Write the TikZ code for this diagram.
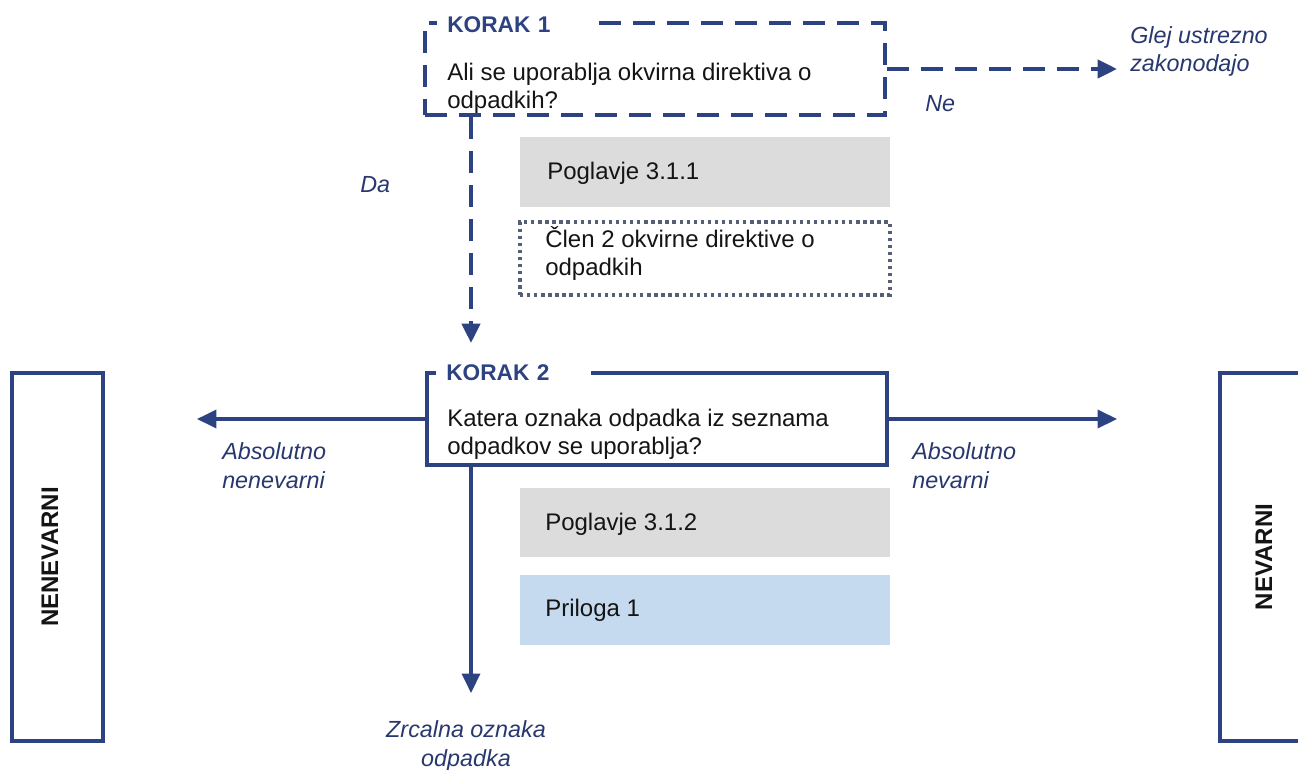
\documentclass[tikz,border=0pt]{standalone}
\usepackage{fontspec}
\setmainfont{Liberation Sans}
\usetikzlibrary{arrows.meta,fit}

\definecolor{navy}{RGB}{45,66,128}
\definecolor{labelblue}{RGB}{40,56,110}
\definecolor{boxgray}{RGB}{220,220,220}
\definecolor{boxblue}{RGB}{197,218,238}
\definecolor{dotgray}{RGB}{85,96,118}
\definecolor{ink}{RGB}{20,20,20}

% multi-line text nodes are placed by the baseline of their last line
\tikzset{
  flowline/.style={draw=navy, line width=2.6pt},
  dashline/.style={draw=navy, line width=3pt, dash pattern=on 16.5pt off 9pt},
  headed/.style={-{Triangle[length=14.5pt,width=13.5pt]}},
  stepbox/.style={rectangle, inner sep=0pt},
  refgray/.style={rectangle, fill=boxgray, inner sep=0pt},
  refblue/.style={rectangle, fill=boxblue, inner sep=0pt},
  refdot/.style={rectangle, draw=dotgray, line width=2.4pt, dash pattern=on 2.5pt off 2.8pt, inner sep=0pt},
  body/.style={font=\fontsize{18}{21}\selectfont, text=ink, inner sep=0pt, anchor=base west, align=left},
  header/.style={font=\fontsize{17}{21}\selectfont\bfseries, text=navy, fill=white,
                 inner xsep=0pt, inner ysep=4pt, anchor=base west, text width=116pt, align=left},
  answer/.style={font=\fontsize{17.5}{21.5}\selectfont\itshape, text=labelblue, inner sep=0pt,
                 anchor=base west, align=left},
  sidebox/.style={rectangle, draw=navy, line width=2.6pt, inner sep=0pt},
  sidetext/.style={font=\fontsize{18}{21}\selectfont\bfseries, text=ink, rotate=90, anchor=base, inner sep=0pt},
}

\begin{document}
\begin{tikzpicture}[x=0.75pt, y=-0.75pt]
  \clip (0,0) rectangle (1298,770);

  % Step 1: dashed question box
  \node[stepbox, dashline, fit={(425,23) (885,115)}] (s1) {};
  \node[header] (k1) at (437,33) {\hspace*{7.5pt}KORAK 1};
  \node[body] (q1) at (447,109) {Ali se uporablja okvirna direktiva o\\odpadkih?};

  % "Ne" branch
  \coordinate (glejtip) at (1117,68);
  \draw[dashline, headed] (s1.east) -- (s1.east -| glejtip);
  \node[answer] (ne) at (925,112) {Ne};
  \node[answer] (glej) at (1130,72) {Glej ustrezno\\zakonodajo};

  % "Da" branch
  \coordinate (datip) at (471,343);
  \draw[dashline, headed] (s1.south -| datip) -- (datip);
  \node[answer] (da) at (360,192) {Da};

  % references for step 1
  \node[refgray, fit={(520,137) (890,207)}] (g1) {};
  \node[body] (g1t) at (547,180) {Poglavje 3.1.1};
  \node[refdot, fit={(520,222) (890,295)}] (d1) {};
  \node[body] (d1t) at (545,275) {Člen 2 okvirne direktive o\\odpadkih};

  % Step 2: solid question box
  \node[stepbox, flowline, fit={(427,373) (887,465)}] (s2) {};
  \node[header] (k2) at (436,380) {\hspace*{7.5pt}KORAK 2};
  \node[body] (q2) at (447,454) {Katera oznaka odpadka iz seznama\\odpadkov se uporablja?};

  % outcomes of step 2
  \coordinate (lefttip) at (197,419);
  \coordinate (righttip) at (1117,419);
  \coordinate (zrtip) at (471,693);
  \draw[flowline, headed] (s2.west) -- (s2.west -| lefttip);
  \draw[flowline, headed] (s2.east) -- (s2.east -| righttip);
  \draw[flowline, headed] (s2.south -| zrtip) -- (zrtip);
  \node[answer] (an) at (222,488) {Absolutno\\nenevarni};
  \node[answer] (av) at (912,488) {Absolutno\\nevarni};
  \node[answer, anchor=base, align=center] (zr) at (466,766) {Zrcalna oznaka\\odpadka};

  % references for step 2
  \node[refgray, fit={(520,488) (890,557)}] (g2) {};
  \node[body] (g2t) at (545,530) {Poglavje 3.1.2};
  \node[refblue, fit={(520,575) (890,645)}] (b2) {};
  \node[body] (b2t) at (545,616) {Priloga 1};

  % classification boxes at the sides
  \node[sidebox, fit={(12,373) (103,741)}] (nen) {};
  \node[sidetext] (nent) at (58,557) {NENEVARNI};
  \node[sidebox, fit={(1220,373) (1340,741)}] (nev) {};
  \node[sidetext] (nevt) at (1272,557) {NEVARNI};
\end{tikzpicture}
\end{document}
